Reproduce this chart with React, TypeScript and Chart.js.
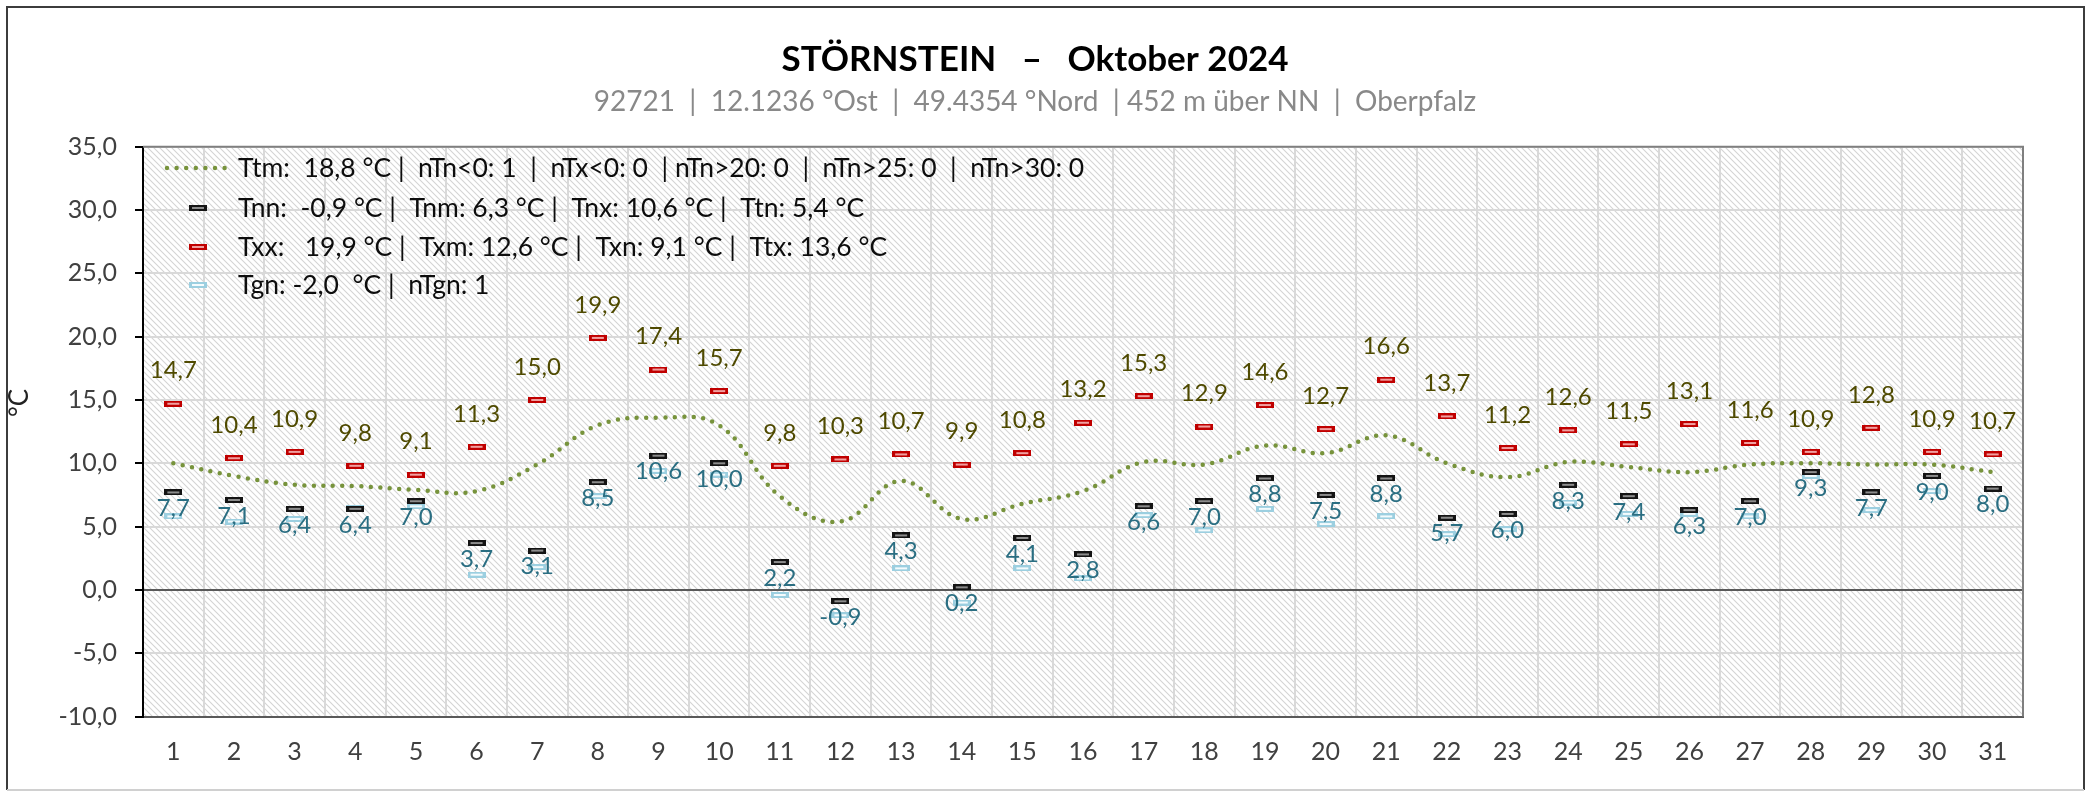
import React, { useEffect, useRef } from 'react';
import { Chart, registerables } from 'chart.js';

Chart.register(...registerables);

const days = ['1', '2', '3', '4', '5', '6', '7', '8', '9', '10', '11', '12', '13', '14', '15', '16', '17', '18', '19', '20', '21', '22', '23', '24', '25', '26', '27', '28', '29', '30', '31'];
const ttm = [10.0, 9.0, 8.3, 8.2, 7.9, 7.8, 9.9, 13.0, 13.6, 13.0, 7.4, 5.4, 8.6, 5.6, 6.8, 7.8, 10.1, 9.9, 11.4, 10.8, 12.2, 10.0, 8.9, 10.1, 9.7, 9.3, 9.9, 10.0, 9.9, 9.9, 9.3];
const tnn = [7.7, 7.1, 6.4, 6.4, 7.0, 3.7, 3.1, 8.5, 10.6, 10.0, 2.2, -0.9, 4.3, 0.2, 4.1, 2.8, 6.6, 7.0, 8.8, 7.5, 8.8, 5.7, 6.0, 8.3, 7.4, 6.3, 7.0, 9.3, 7.7, 9.0, 8.0];
const txx = [14.7, 10.4, 10.9, 9.8, 9.1, 11.3, 15.0, 19.9, 17.4, 15.7, 9.8, 10.3, 10.7, 9.9, 10.8, 13.2, 15.3, 12.9, 14.6, 12.7, 16.6, 13.7, 11.2, 12.6, 11.5, 13.1, 11.6, 10.9, 12.8, 10.9, 10.7];
const tgn = [5.8, 5.4, 5.6, 6.5, 6.6, 1.2, 1.8, 7.4, 9.4, 9.1, -0.4, -2.0, 1.7, -1.0, 1.7, 0.9, 5.9, 4.7, 6.4, 5.2, 5.8, 4.4, 4.8, 6.9, 6.0, 6.0, 5.8, 9.0, 6.3, 7.8, null];

const yMin = -10;
const yMax = 35;
const yStep = 5;

const titleText = 'STÖRNSTEIN   –   Oktober 2024';
const subtitleText = '92721  |  12.1236 °Ost  |  49.4354 °Nord  | 452 m über NN  |  Oberpfalz';
const yAxisTitle = '°C';
const legendTtm = 'Ttm:  18,8 °C |  nTn<0: 1  |  nTx<0: 0  | nTn>20: 0  |  nTn>25: 0  |  nTn>30: 0';
const legendTnn = 'Tnn:  -0,9 °C |  Tnm: 6,3 °C |  Tnx: 10,6 °C |  Ttn: 5,4 °C';
const legendTxx = 'Txx:   19,9 °C |  Txm: 12,6 °C |  Txn: 9,1 °C |  Ttx: 13,6 °C';
const legendTgn = 'Tgn: -2,0  °C |  nTgn: 1';

const FONT = 'Lato, "Open Sans", sans-serif';
const GREEN = '#77933c';
const fmt = (v: number) => v.toFixed(1).replace('.', ',');

function makeMarker(border: string, inner: string) {
  const c = document.createElement('canvas');
  c.width = 18;
  c.height = 6;
  const g = c.getContext('2d')!;
  g.fillStyle = border;
  g.fillRect(0, 0, 18, 6);
  g.fillStyle = inner;
  g.fillRect(3, 2, 12, 2);
  return c;
}

export default function App() {
  const ref = useRef<HTMLCanvasElement | null>(null);

  useEffect(() => {
    const canvas = ref.current!;
    const mTnn = makeMarker('#141414', '#8c8c8c');
    const mTxx = makeMarker('#c00000', '#f0a0a0');
    const mTgn = makeMarker('#9ccfe0', '#f4fbfd');

    const bgPlugin = {
      id: 'bgHatch',
      beforeDraw(chart: any) {
        const { ctx, chartArea: a } = chart;
        ctx.save();
        ctx.fillStyle = '#ffffff';
        ctx.fillRect(0, 0, chart.width, chart.height);
        const p = document.createElement('canvas');
        p.width = 6;
        p.height = 6;
        const g = p.getContext('2d')!;
        g.strokeStyle = '#d4d4d4';
        g.lineWidth = 1.1;
        g.beginPath();
        g.moveTo(-1, -1); g.lineTo(7, 7);
        g.moveTo(-1, 5); g.lineTo(1, 7);
        g.moveTo(5, -1); g.lineTo(7, 1);
        g.stroke();
        ctx.fillStyle = ctx.createPattern(p, 'repeat');
        ctx.fillRect(a.left, a.top, a.right - a.left, a.bottom - a.top);
        ctx.restore();
      },
    };

    const overlayPlugin = {
      id: 'overlay',
      afterDraw(chart: any) {
        const { ctx, chartArea: a } = chart;
        ctx.save();
        // plot border (top, right)
        ctx.strokeStyle = '#7f7f7f';
        ctx.lineWidth = 2;
        ctx.beginPath();
        ctx.moveTo(a.left, a.top);
        ctx.lineTo(a.right, a.top);
        ctx.lineTo(a.right, a.bottom);
        ctx.stroke();

        // outer frame
        ctx.strokeStyle = '#3c3c3c';
        ctx.lineWidth = 2;
        ctx.beginPath();
        ctx.moveTo(7, 790);
        ctx.lineTo(7, 7);
        ctx.lineTo(2084, 7);
        ctx.lineTo(2084, 790);
        ctx.stroke();
        ctx.strokeStyle = '#d0d0d0';
        ctx.beginPath();
        ctx.moveTo(7, 790);
        ctx.lineTo(2084, 790);
        ctx.stroke();

        // title
        ctx.textAlign = 'center';
        ctx.textBaseline = 'alphabetic';
        ctx.fillStyle = '#000000';
        ctx.font = `bold 35px ${FONT}`;
        ctx.fillText(titleText, 1035, 71);
        ctx.fillStyle = '#898989';
        ctx.font = `28px ${FONT}`;
        ctx.fillText(subtitleText, 1035, 111);

        // y axis title
        ctx.save();
        ctx.translate(20, 403);
        ctx.rotate(-Math.PI / 2);
        ctx.fillStyle = '#222222';
        ctx.font = `26px ${FONT}`;
        ctx.textBaseline = 'middle';
        ctx.fillText(yAxisTitle, 0, 0);
        ctx.restore();

        // data labels
        ctx.font = `24px ${FONT}`;
        ctx.textAlign = 'center';
        ctx.textBaseline = 'middle';
        const metaTxx = chart.getDatasetMeta(2);
        ctx.fillStyle = '#4f4a00';
        metaTxx.data.forEach((el: any, i: number) => {
          const v = txx[i];
          if (v == null) return;
          ctx.fillText(fmt(v), el.x, el.y - 33);
        });
        const metaTnn = chart.getDatasetMeta(1);
        ctx.fillStyle = '#2a6e82';
        metaTnn.data.forEach((el: any, i: number) => {
          const v = tnn[i];
          if (v == null) return;
          ctx.fillText(fmt(v), el.x, el.y + 16);
        });

        // legend
        const rows = [168, 208, 247, 285];
        const texts = chart.data.datasets.map((d: any) => d.label);
        ctx.save();
        ctx.strokeStyle = GREEN;
        ctx.lineWidth = 4.5;
        ctx.lineCap = 'round';
        ctx.setLineDash([0, 9.6]);
        ctx.beginPath();
        ctx.moveTo(167, rows[0]);
        ctx.lineTo(225, rows[0]);
        ctx.stroke();
        ctx.restore();
        const marks = [mTnn, mTxx, mTgn];
        marks.forEach((m, k) => {
          ctx.drawImage(m, 198 - 9, Math.round(rows[k + 1] - 3));
        });
        ctx.fillStyle = '#0d0d0d';
        ctx.font = `26.5px ${FONT}`;
        ctx.textAlign = 'left';
        ctx.textBaseline = 'middle';
        texts.forEach((t: string, k: number) => {
          ctx.fillText(t, 238, rows[k]);
        });
        ctx.restore();
      },
    };

    const chart = new Chart(canvas, {
      type: 'line',
      data: {
        labels: days,
        datasets: [
          {
            label: legendTtm,
            data: ttm,
            borderColor: GREEN,
            borderWidth: 4.5,
            borderDash: [0, 9.5],
            borderCapStyle: 'round',
            tension: 0.4,
            pointRadius: 0,
            fill: false,
          },
          {
            label: legendTnn,
            data: tnn,
            showLine: false,
            pointStyle: mTnn,
            pointRadius: 9,
            borderColor: '#141414',
            backgroundColor: '#8c8c8c',
          },
          {
            label: legendTxx,
            data: txx,
            showLine: false,
            pointStyle: mTxx,
            pointRadius: 9,
            borderColor: '#c00000',
            backgroundColor: '#f0a0a0',
          },
          {
            label: legendTgn,
            data: tgn,
            showLine: false,
            pointStyle: mTgn,
            pointRadius: 9,
            borderColor: '#9ccfe0',
            backgroundColor: '#ffffff',
          },
        ] as any,
      },
      options: {
        animation: false,
        responsive: false,
        devicePixelRatio: 1,
        layout: { padding: { left: 0, top: 146.7, right: 68, bottom: 0 } },
        plugins: {
          legend: { display: false },
          title: { display: false },
          tooltip: { enabled: false },
        },
        scales: {
          x: {
            type: 'category',
            offset: true,
            grid: { offset: true, color: '#d9d9d9', lineWidth: 2, drawTicks: false },
            border: { display: true, color: '#595959', width: 2 },
            ticks: { font: { family: FONT, size: 25 }, color: '#404040', padding: 20, maxRotation: 0, autoSkip: false },
            afterFit: (s: any) => { s.height = 74.5; },
          },
          y: {
            min: yMin,
            max: yMax,
            ticks: {
              stepSize: yStep,
              font: { family: FONT, size: 25 },
              color: '#404040',
              padding: 18,
              callback: (v: any) => fmt(Number(v)),
            },
            grid: {
              color: (c: any) => (c.tick && c.tick.value === 0 ? '#595959' : '#d9d9d9'),
              lineWidth: 2,
              tickLength: 8,
              tickColor: '#000000',
              tickWidth: 2,
            },
            border: { display: true, color: '#000000', width: 2 },
            afterFit: (s: any) => { s.width = 143; },
          },
        },
      } as any,
      plugins: [bgPlugin, overlayPlugin],
    });

    return () => chart.destroy();
  }, []);

  return (
    <div style={{ position: 'fixed', left: 0, top: 0, width: 2091, height: 791, background: '#fff' }}>
      <canvas ref={ref} width={2091} height={791} style={{ width: 2091, height: 791, display: 'block' }} />
    </div>
  );
}
